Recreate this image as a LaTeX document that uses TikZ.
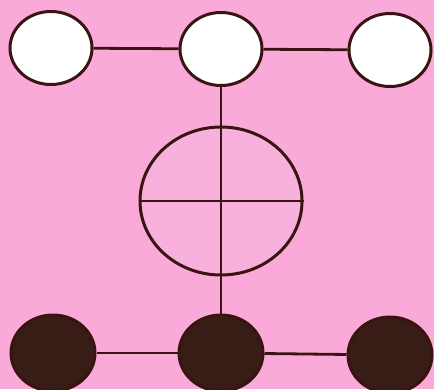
\documentclass[tikz,border=0pt]{standalone}
\usetikzlibrary{shapes.geometric}
\definecolor{bgpink}{RGB}{250,170,216}
\definecolor{inkbrown}{RGB}{58,20,16}
\definecolor{darkfill}{RGB}{56,28,22}
\definecolor{midpink}{RGB}{248,176,220}
\begin{document}
\begin{tikzpicture}[x=1pt,y=-1pt,
  wball/.style={ellipse, draw=inkbrown, fill=white, line width=3pt, minimum width=82pt, minimum height=73pt, inner sep=0pt},
  dball/.style={ellipse, draw=inkbrown, fill=darkfill, line width=3pt, minimum width=84pt, minimum height=76pt, inner sep=0pt},
  link/.style={draw=inkbrown, line width=2.8pt}]
\useasboundingbox (0,0) rectangle (434,389);
\fill[bgpink] (0,0) rectangle (434,389);
\node[wball] (t1) at (51,48) {};
\node[wball] (t2) at (221,49) {};
\node[wball] (t3) at (390,50) {};
\node[ellipse, draw=inkbrown, fill=midpink, line width=3pt, minimum width=162pt, minimum height=148pt, inner sep=0pt] (c) at (221,201) {};
\node[dball] (b1) at (53,353) {};
\node[dball] (b2) at (221,353) {};
\node[dball] (b3) at (390,355) {};
\draw[link] (t1) -- (t2);
\draw[link] (t2) -- (t3);
\draw[link] (t2.south) -- (c.north);
\draw[link] (c.north) -- (c.south);
\draw[link] (c.west) -- (c.east);
\draw[link] (c.south) -- (b2.north);
\draw[link] (b1) -- (b2);
\draw[link] (b2) -- (b3);
\end{tikzpicture}
\end{document}
